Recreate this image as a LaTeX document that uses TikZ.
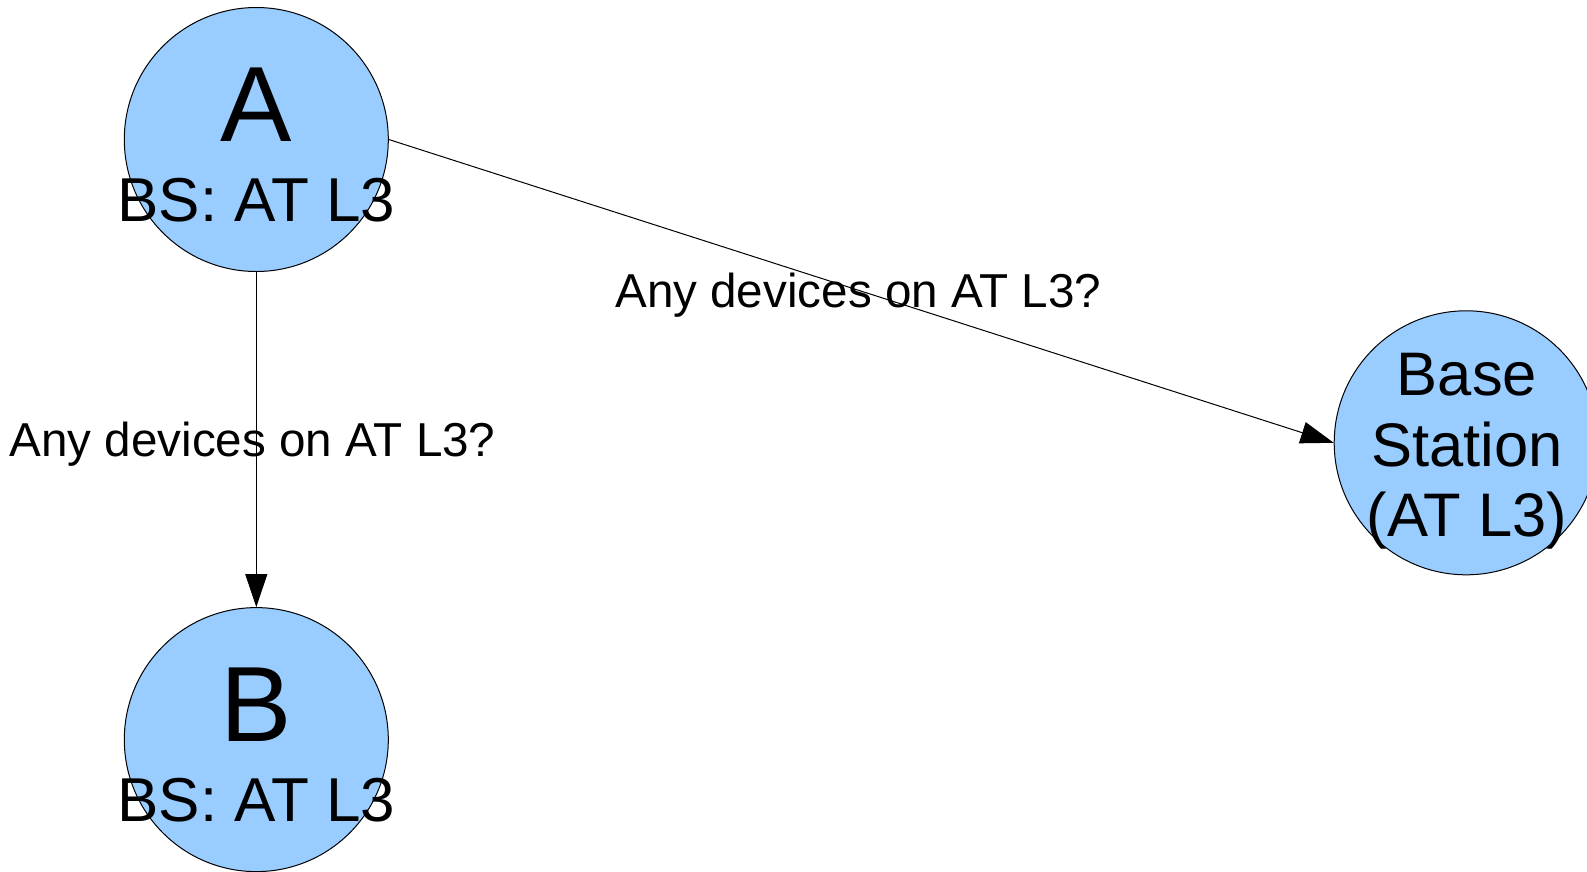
\documentclass[tikz,border=0pt]{standalone}
\usepackage{fontspec}
\setmainfont{Liberation Sans}
\usetikzlibrary{arrows.meta}
\definecolor{nodefill}{HTML}{99CCFF}
\tikzset{
  station/.style={circle, draw=black, line width=1pt, fill=nodefill,
    minimum size=264pt, inner sep=0pt},
  bigname/.style={font=\fontsize{107}{107}\selectfont, anchor=base, inner sep=0pt},
  bslabel/.style={font=\fontsize{62}{62}\selectfont, anchor=base, inner sep=0pt},
  stlabel/.style={font=\fontsize{61.5}{61.5}\selectfont, anchor=base, inner sep=0pt},
  msg/.style={font=\fontsize{47.6}{47.6}\selectfont, anchor=base, inner sep=0pt},
  link/.style={line width=1pt, -{Triangle[length=33pt,width=22pt]}},
}
\begin{document}
\begin{tikzpicture}[x=1pt,y=-1pt]
\useasboundingbox (0,0) rectangle (1587,871);
\clip (0,0) rectangle (1587,871);

% devices and base station
\node[station] (A)  at (256.3,139.5) {};
\node[station] (B)  at (256.3,739.6) {};
\node[station] (BS) at (1466.2,442.8) {};

% queries
\draw[link] (A.south) -- (B.north);
\draw[link] (A.east) -- (BS.west);

% texts inside the circles
\node[bigname] (Aname) at (256.5,141.7) {A};
\node[bslabel] (Abs)   at (256.5,221.7) {BS: AT L3};
\node[bigname] (Bname) at (256.5,741.7) {B};
\node[bslabel] (Bbs)   at (256.5,821.7) {BS: AT L3};
\node[stlabel] (BS1) at (1467,395)   {Base};
\node[stlabel] (BS2) at (1467,466.7) {Station};
\node[stlabel] (BS3) at (1467,536.7) {(AT L3)};

% message labels
\node[msg] (qB)  at (252.5,456)   {Any devices on AT L3?};
\node[msg] (qBS) at (858.3,307.3) {Any devices on AT L3?};
\end{tikzpicture}
\end{document}
